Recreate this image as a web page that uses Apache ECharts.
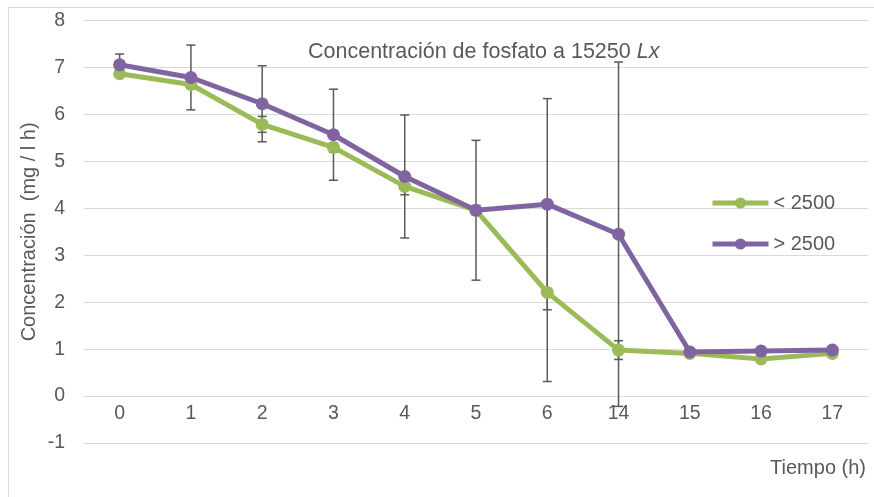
<!DOCTYPE html>
<html>
<head>
<meta charset="utf-8">
<script src="https://cdn.jsdelivr.net/npm/echarts@6/dist/echarts.min.js"></script>
<style>
html,body{margin:0;padding:0;background:#fff;}
#c{width:874px;height:497px;}
</style>
</head>
<body>
<div id="c"></div>
<script>
var categories = ['0','1','2','3','4','5','6','14','15','16','17'];
var seriesNames = ['< 2500', '> 2500'];
var lowValues  = [6.87, 6.64, 5.79, 5.30, 4.47, 3.96, 2.21, 0.98, 0.91, 0.79, 0.91];
var highValues = [7.06, 6.79, 6.23, 5.57, 4.68, 3.96, 4.09, 3.45, 0.94, 0.96, 0.98];
var lowErrors  = [0.05, 0.05, 0.17, 0.10, 0.18, 0.10, 1.90, 0.20, 0.03, 0.03, 0.03];
var highErrors = [0.23, 0.69, 0.81, 0.97, 1.31, 1.49, 2.25, 3.67, 0.03, 0.03, 0.03];
var yTicks = [-1, 0, 1, 2, 3, 4, 5, 6, 7, 8];

var txt = '#595959';
var grey = '#d9d9d9';
var ff = 'Liberation Sans, Arial, sans-serif';

function errData(vals, errs) {
  return vals.map(function (v, i) { return [i, v, errs[i]]; });
}
function renderErr(params, api) {
  var i = api.value(0), v = api.value(1), e = api.value(2);
  var top = api.coord([i, v + e]);
  var bot = api.coord([i, v - e]);
  var hw = 4.5;
  var st = { stroke: '#595959', lineWidth: 1.5 };
  return {
    type: 'group',
    children: [
      { type: 'line', shape: { x1: top[0], y1: top[1], x2: bot[0], y2: bot[1] }, style: st },
      { type: 'line', shape: { x1: top[0] - hw, y1: top[1], x2: top[0] + hw, y2: top[1] }, style: st },
      { type: 'line', shape: { x1: bot[0] - hw, y1: bot[1], x2: bot[0] + hw, y2: bot[1] }, style: st }
    ]
  };
}

var plotH = 497 - 54 - 20.7;
var unitPx = plotH / (yTicks[yTicks.length - 1] - yTicks[0]);

var chart = echarts.init(document.getElementById('c'));
chart.setOption({
  animation: false,
  backgroundColor: '#fff',
  textStyle: { fontFamily: ff, color: txt },
  title: {
    text: 'Concentración de fosfato a 15250 {i|Lx}',
    left: 303,
    top: 36,
    textStyle: {
      fontFamily: ff,
      fontSize: 21.5, fontWeight: 'normal', color: txt,
      rich: { i: { fontStyle: 'italic', fontSize: 21.5, color: txt, fontFamily: ff } }
    }
  },
  legend: {
    orient: 'vertical',
    left: 710,
    top: 193,
    padding: 0,
    itemWidth: 56,
    itemHeight: 14,
    itemGap: 21,
    data: seriesNames,
    lineStyle: { width: 5 },
    textStyle: { fontSize: 20, color: txt, fontFamily: ff }
  },
  grid: { left: 84, right: 6, top: 20.7, bottom: 54, containLabel: false },
  xAxis: {
    type: 'category',
    data: categories,
    boundaryGap: true,
    offset: -unitPx,
    axisLine: { show: true, onZero: false, lineStyle: { color: grey, width: 1.2 } },
    axisTick: { show: false },
    axisLabel: { fontSize: 19.5, color: txt, margin: 8, fontFamily: ff },
    splitLine: { show: false }
  },
  yAxis: {
    type: 'value',
    min: yTicks[0],
    max: yTicks[yTicks.length - 1],
    interval: 1,
    name: 'Concentración  (mg / l h)',
    nameLocation: 'middle',
    nameGap: 45,
    nameMoveOverlap: false,
    nameRotate: 90,
    nameTextStyle: { fontSize: 20, color: txt, fontFamily: ff },
    axisLine: { show: false },
    axisTick: { show: false },
    axisLabel: { fontSize: 19.5, color: txt, margin: 19, fontFamily: ff },
    splitLine: { show: true, lineStyle: { color: grey, width: 1.2 } }
  },
  graphic: [
    { type: 'rect', shape: { x: 8.5, y: 7.5, width: 900, height: 520 }, style: { fill: 'none', stroke: grey, lineWidth: 1 }, silent: true },
    { type: 'text', right: 8, top: 458, style: { text: 'Tiempo (h)', fontSize: 20, fill: txt, fontFamily: ff } }
  ],
  series: [
    {
      type: 'custom', name: 'errLow', renderItem: renderErr, data: errData(lowValues, lowErrors),
      encode: { x: 0, y: 1 }, z: 1, silent: true
    },
    {
      type: 'custom', name: 'errHigh', renderItem: renderErr, data: errData(highValues, highErrors),
      encode: { x: 0, y: 1 }, z: 1, silent: true
    },
    {
      type: 'line', name: seriesNames[0], data: lowValues, z: 2,
      symbol: 'circle', symbolSize: 13,
      lineStyle: { color: '#9BBB59', width: 5 },
      itemStyle: { color: '#9BBB59' }
    },
    {
      type: 'line', name: seriesNames[1], data: highValues, z: 3,
      symbol: 'circle', symbolSize: 13,
      lineStyle: { color: '#8064A2', width: 5 },
      itemStyle: { color: '#8064A2' }
    }
  ]
});
</script>
</body>
</html>
